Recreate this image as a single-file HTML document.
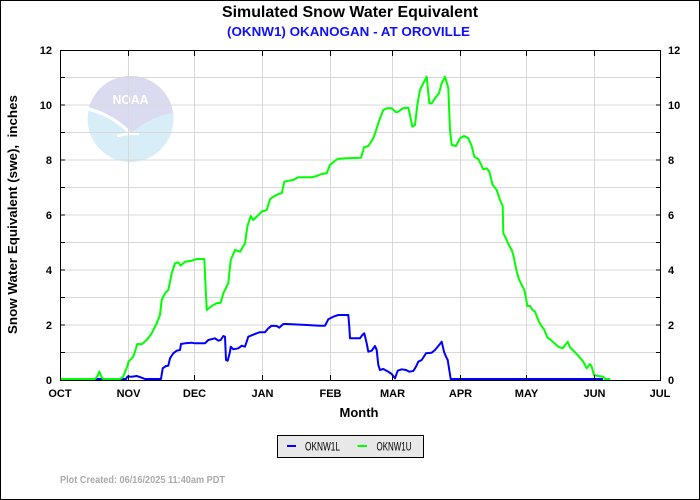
<!DOCTYPE html>
<html><head><meta charset="utf-8"><style>
html,body{margin:0;padding:0;background:#fff;}
svg{display:block;}
text{font-family:"Liberation Sans",Arial,sans-serif;}
</style></head><body>
<svg width="700" height="500" viewBox="0 0 700 500" xmlns="http://www.w3.org/2000/svg">
<rect x="0" y="0" width="700" height="500" fill="#fff"/>
<rect x="0.5" y="0.5" width="699" height="499" fill="none" stroke="#000" stroke-width="1"/>

<!-- titles -->
<text x="350" y="17" text-anchor="middle" font-size="16" font-weight="bold" fill="#000" textLength="256" lengthAdjust="spacingAndGlyphs">Simulated Snow Water Equivalent</text>
<text x="348.5" y="36" text-anchor="middle" font-size="13.3" font-weight="bold" fill="#1010ff" textLength="243" lengthAdjust="spacingAndGlyphs">(OKNW1) OKANOGAN - AT OROVILLE</text>

<!-- NOAA logo -->
<g>
<circle cx="130.5" cy="119" r="43" fill="#d7edf8"/>
<path d="M 89.2,107 A 43 43 0 0 1 173.1,113 Q 152,116 131,133 Q 112,113 89.2,107 Z" fill="#dadbf0"/>
<path d="M 88,109 Q 112,115 129,132" fill="none" stroke="#fff" stroke-width="3"/>
<path d="M 117,136 Q 128,133 139,134" fill="none" stroke="#fff" stroke-width="2.5"/>
<text x="130.5" y="104" text-anchor="middle" font-size="13" font-weight="bold" fill="#fff" textLength="36" lengthAdjust="spacingAndGlyphs">NOAA</text>
</g>

<!-- grid -->
<g stroke="#d8d8d8" stroke-width="1" fill="none">
<line x1="60" y1="352.5" x2="660" y2="352.5"/>
<line x1="60" y1="325" x2="660" y2="325"/>
<line x1="60" y1="297.5" x2="660" y2="297.5"/>
<line x1="60" y1="270" x2="660" y2="270"/>
<line x1="60" y1="242.5" x2="660" y2="242.5"/>
<line x1="60" y1="215" x2="660" y2="215"/>
<line x1="60" y1="187.5" x2="660" y2="187.5"/>
<line x1="60" y1="160" x2="660" y2="160"/>
<line x1="60" y1="132.5" x2="660" y2="132.5"/>
<line x1="60" y1="105" x2="660" y2="105"/>
<line x1="60" y1="77.5" x2="660" y2="77.5"/>
<line x1="128.5" y1="50" x2="128.5" y2="380"/>
<line x1="194.5" y1="50" x2="194.5" y2="380"/>
<line x1="262.5" y1="50" x2="262.5" y2="380"/>
<line x1="330.5" y1="50" x2="330.5" y2="380"/>
<line x1="392.5" y1="50" x2="392.5" y2="380"/>
<line x1="460.5" y1="50" x2="460.5" y2="380"/>
<line x1="526.5" y1="50" x2="526.5" y2="380"/>
<line x1="594.5" y1="50" x2="594.5" y2="380"/>
</g>

<!-- series -->
<polyline fill="none" stroke="#0000ff" stroke-width="2" stroke-linejoin="round" points="60,379 126,379 127.5,376.5 131.7,376.7 136.7,376 141.7,377.7 145,379 161,379 162.7,368.3 166,366 168.3,365.7 170,358.3 173.3,353.3 176.7,350.7 180,350 181,344 185,343.3 191.7,342.7 195,343.3 205,343.3 208.3,340 215,338.3 218.3,340.7 220.7,340 223.3,336 225,336.7 226,360 227.7,360.7 230,351.7 230.7,346.7 233.3,349.3 238.3,348.3 241.7,345.7 245,346.7 248.3,336.7 251.7,335.3 256.7,333.3 259.3,332.3 265,332.3 268.3,328.3 271.7,325.7 276.7,326 279.3,327.7 283.3,324 286.7,324 306.7,325 320,325.7 325,325.7 328.3,319.3 333.3,316.7 338.3,315 348.3,315 349.3,326.7 350,338.3 360,338.3 362.3,335 364.3,333.3 366.7,343.3 368.3,351.7 371.7,350.7 375,346 376.7,350 378.3,365 380,370 383.3,369 388.3,371.7 391.7,374 395,378.3 397.7,370.7 401.7,369.3 406,370 409.3,371.7 413.3,371 416,366.7 418.3,361.7 421.7,360 426,353.3 431.7,352.7 435,350 437.7,346.7 441.7,341.7 444,351.7 446,356.7 447.7,360 450.7,379 603,379"/>
<polyline fill="none" stroke="#00ff00" stroke-width="2" stroke-linejoin="round" points="60,379 95,379 97.5,376 99.3,371.5 101.5,377 103,379 120,379 123,377 125,372 127.5,366 128.5,361.7 131.7,358.3 133.3,356.7 135.5,350 137.3,344 141.7,344.3 146.7,340 151.7,333.3 156.7,323.3 160,315 161.7,300 165,293.3 168.3,290 171.7,273.3 175,263.3 178.3,262.3 180.7,265.7 185,261.7 191.7,260.7 196.7,259 204.3,259 206.7,310 211.7,306 216.7,303.3 220.7,302.7 223.3,293.3 228.3,283.3 230.7,260 235,250 240,251.7 245,243.3 247.3,226.7 250.7,216 253.3,220 261.7,211.7 266.7,210 270,199.3 273.3,196.7 278.3,194 281.7,193.3 284.3,181.7 288.3,180.7 293.3,180 298.3,177.3 311.7,177.3 316.7,176 321.7,174 326.7,173.3 330,165 335,160.7 338.3,158.7 346.7,158.3 361,157.7 364,147.3 368.3,146 373.3,138.3 376.7,128.3 380,118.3 383.3,110 386.7,108.3 391.7,108.3 396,112.3 398.3,111.7 402.7,108.3 408.3,107.7 410,115 412.3,126.7 415,125 417.3,105 420,90 423.3,83.3 426.7,76.7 429.3,103.3 431.7,103.3 435,98.3 439,93.3 441.7,83.3 445,76.7 448.3,88.3 450,130 451.7,145 456,146 460,138.3 464,136 468.3,138.3 471.7,146 474.3,156.7 478.3,159 481.7,166 483.3,169.3 486.7,168.3 489.3,171.7 492.7,185 496.7,190 500,200 502.7,206 503.3,233.3 506.7,240 508.3,244 511.7,250 513.3,255 515,263.3 516.7,271.7 519.3,280 521.7,285 524.3,290 526,298.3 527.3,306 530,306 532.7,310 535,311.7 538.3,320 540.7,325 544,329.3 547.3,337.3 551.7,340.7 558.3,346.7 562.7,348.3 567.7,341.7 570,347.3 576.7,354 583.3,361.7 586.7,368.3 590,364 591.7,366.7 594,375 598.3,376 603.3,376.7 605,379 610,379"/>

<!-- frame & ticks -->
<rect x="60.5" y="50.5" width="600" height="330" fill="none" stroke="#000" stroke-width="1"/>
<g stroke="#000" stroke-width="1">
<line x1="60" y1="352.5" x2="65" y2="352.5"/><line x1="60" y1="325" x2="65" y2="325"/><line x1="60" y1="297.5" x2="65" y2="297.5"/><line x1="60" y1="270" x2="65" y2="270"/><line x1="60" y1="242.5" x2="65" y2="242.5"/><line x1="60" y1="215" x2="65" y2="215"/><line x1="60" y1="187.5" x2="65" y2="187.5"/><line x1="60" y1="160" x2="65" y2="160"/><line x1="60" y1="132.5" x2="65" y2="132.5"/><line x1="60" y1="105" x2="65" y2="105"/><line x1="60" y1="77.5" x2="65" y2="77.5"/>
<line x1="656" y1="352.5" x2="661" y2="352.5"/><line x1="656" y1="325" x2="661" y2="325"/><line x1="656" y1="297.5" x2="661" y2="297.5"/><line x1="656" y1="270" x2="661" y2="270"/><line x1="656" y1="242.5" x2="661" y2="242.5"/><line x1="656" y1="215" x2="661" y2="215"/><line x1="656" y1="187.5" x2="661" y2="187.5"/><line x1="656" y1="160" x2="661" y2="160"/><line x1="656" y1="132.5" x2="661" y2="132.5"/><line x1="656" y1="105" x2="661" y2="105"/><line x1="656" y1="77.5" x2="661" y2="77.5"/>
<line x1="128.5" y1="375" x2="128.5" y2="381"/><line x1="194.5" y1="375" x2="194.5" y2="381"/><line x1="262.5" y1="375" x2="262.5" y2="381"/><line x1="330.5" y1="375" x2="330.5" y2="381"/><line x1="392.5" y1="375" x2="392.5" y2="381"/><line x1="460.5" y1="375" x2="460.5" y2="381"/><line x1="526.5" y1="375" x2="526.5" y2="381"/><line x1="594.5" y1="375" x2="594.5" y2="381"/>
<line x1="128.5" y1="50" x2="128.5" y2="56"/><line x1="194.5" y1="50" x2="194.5" y2="56"/><line x1="262.5" y1="50" x2="262.5" y2="56"/><line x1="330.5" y1="50" x2="330.5" y2="56"/><line x1="392.5" y1="50" x2="392.5" y2="56"/><line x1="460.5" y1="50" x2="460.5" y2="56"/><line x1="526.5" y1="50" x2="526.5" y2="56"/><line x1="594.5" y1="50" x2="594.5" y2="56"/>
</g>

<!-- y tick labels -->
<g font-size="11" font-weight="bold" fill="#000" text-anchor="end">
<text x="52" y="54">12</text><text x="52" y="109">10</text><text x="52" y="164">8</text><text x="52" y="219">6</text><text x="52" y="274">4</text><text x="52" y="329">2</text><text x="52" y="384">0</text>
</g>
<g font-size="11" font-weight="bold" fill="#000" text-anchor="start">
<text x="668" y="54">12</text><text x="668" y="109">10</text><text x="668" y="164">8</text><text x="668" y="219">6</text><text x="668" y="274">4</text><text x="668" y="329">2</text><text x="668" y="384">0</text>
</g>
<!-- month labels -->
<g font-size="11" font-weight="bold" fill="#000" text-anchor="middle">
<text x="60" y="397">OCT</text><text x="128.5" y="397">NOV</text><text x="194.5" y="397">DEC</text><text x="262.5" y="397">JAN</text><text x="330.5" y="397">FEB</text><text x="392.5" y="397">MAR</text><text x="460.5" y="397">APR</text><text x="526.5" y="397">MAY</text><text x="594.5" y="397">JUN</text><text x="660" y="397">JUL</text>
</g>

<!-- axis titles -->
<text x="359" y="417" text-anchor="middle" font-size="13" font-weight="bold" fill="#000">Month</text>
<text transform="translate(17,214.5) rotate(-90)" x="0" y="0" text-anchor="middle" font-size="13" font-weight="bold" fill="#000" textLength="239" lengthAdjust="spacingAndGlyphs" xml:space="preserve">Snow Water Equivalent (swe),  inches</text>

<!-- legend -->
<rect x="277.5" y="435.5" width="146" height="22" fill="#e8e8e8" stroke="#000" stroke-width="1"/>
<line x1="287" y1="446" x2="296" y2="446" stroke="#0000ff" stroke-width="2"/>
<text x="305" y="450.5" font-family="'Liberation Mono','DejaVu Sans Mono',monospace" font-size="12" fill="#000" textLength="35" lengthAdjust="spacingAndGlyphs">OKNW1L</text>
<line x1="357.5" y1="446" x2="367" y2="446" stroke="#00ff00" stroke-width="2"/>
<text x="376.5" y="450.5" font-family="'Liberation Mono','DejaVu Sans Mono',monospace" font-size="12" fill="#000" textLength="35" lengthAdjust="spacingAndGlyphs">OKNW1U</text>

<!-- footer -->
<text x="60" y="483" font-size="10" font-weight="bold" fill="#aaaaaa" textLength="165" lengthAdjust="spacingAndGlyphs">Plot Created: 06/16/2025 11:40am PDT</text>
</svg>
</body></html>
